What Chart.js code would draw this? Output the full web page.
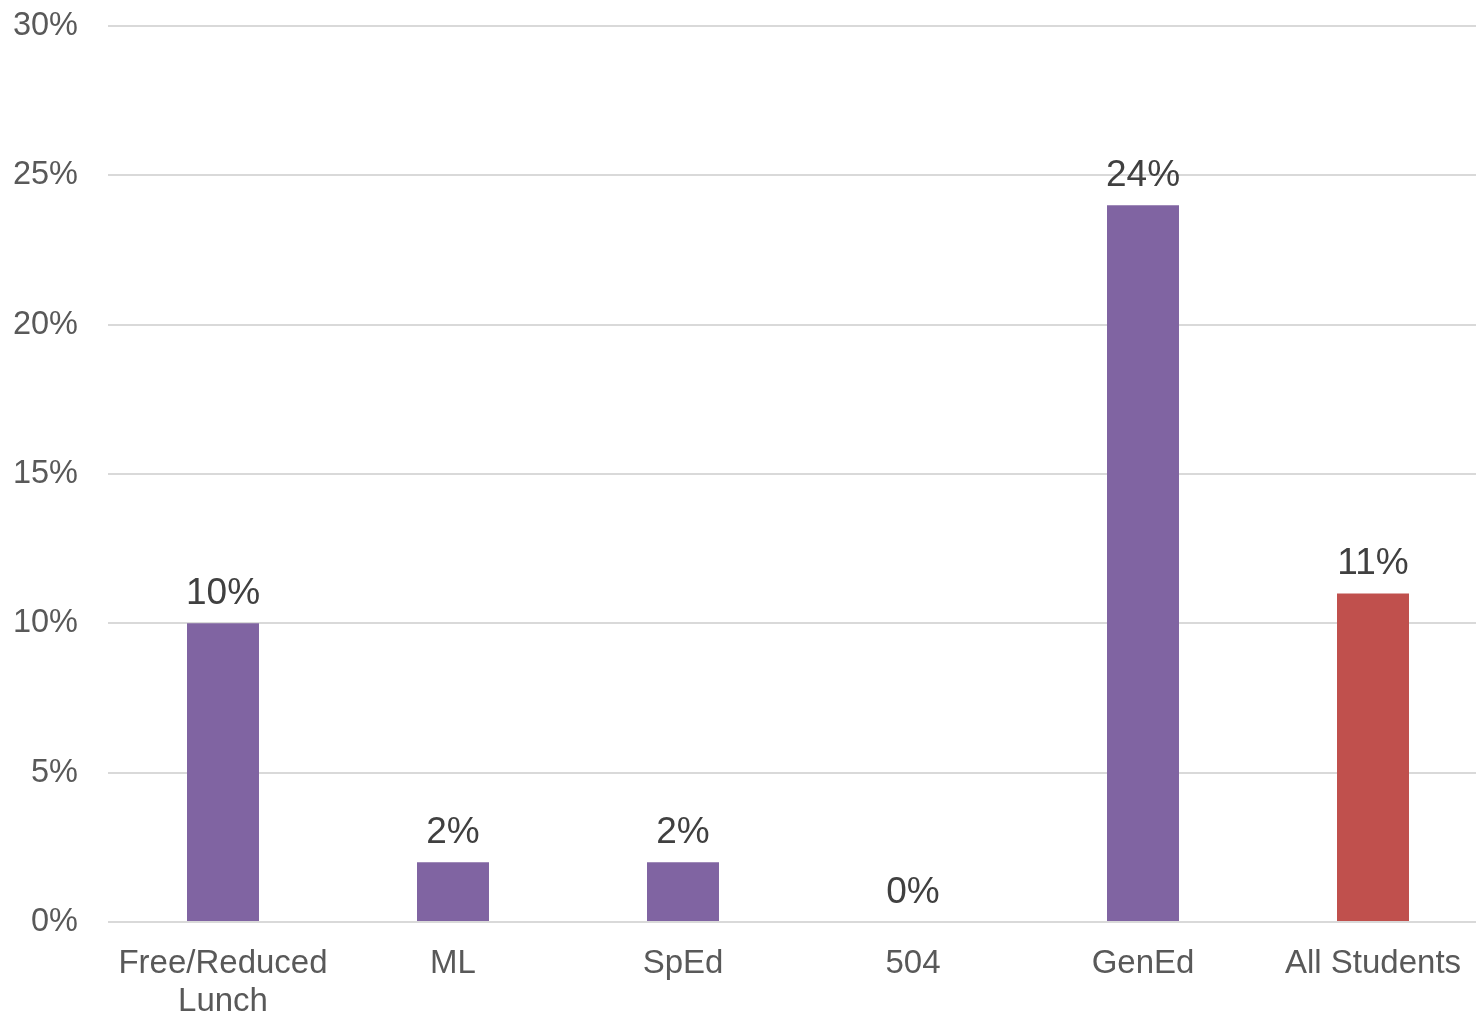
<!DOCTYPE html>
<html>
<head>
<meta charset="utf-8">
<script src="https://cdn.jsdelivr.net/npm/chart.js@4/dist/chart.umd.min.js"></script>
<style>
html,body{margin:0;padding:0;background:#fff;overflow:hidden;}
#wrap{position:relative;width:1488px;height:1015px;}
</style>
</head>
<body>
<div id="wrap"><canvas id="c" width="1488" height="1015"></canvas></div>
<script>
const categories = [['Free/Reduced','Lunch'], 'ML', 'SpEd', '504', 'GenEd', 'All Students'];
const values = [10, 2, 2, 0, 24, 11];
const barColors = ['#8064A2', '#8064A2', '#8064A2', '#8064A2', '#8064A2', '#C0504D'];
const yTicks = [0, 5, 10, 15, 20, 25, 30];

const valueLabels = {
  id: 'valueLabels',
  afterDatasetsDraw(chart) {
    const ctx = chart.ctx;
    const meta = chart.getDatasetMeta(0);
    ctx.save();
    ctx.font = '37px "Liberation Sans", Arial, sans-serif';
    ctx.fillStyle = '#404040';
    ctx.textAlign = 'center';
    ctx.textBaseline = 'alphabetic';
    meta.data.forEach((bar, i) => {
      ctx.fillText(values[i] + '%', bar.x, bar.y - 19);
    });
    ctx.restore();
  }
};

new Chart(document.getElementById('c'), {
  type: 'bar',
  data: {
    labels: categories,
    datasets: [{
      data: values,
      backgroundColor: barColors,
      borderWidth: 0,
      barPercentage: 0.626,
      categoryPercentage: 0.5
    }]
  },
  options: {
    responsive: false,
    animation: false,
    layout: { padding: { top: 26, right: 0, left: 0, bottom: 0 } },
    plugins: { legend: { display: false }, tooltip: { enabled: false } },
    scales: {
      x: {
        grid: { display: false, drawTicks: false },
        border: { display: false },
        ticks: {
          color: '#595959',
          font: { family: '"Liberation Sans", Arial, sans-serif', size: 33, lineHeight: 1.15 },
          padding: 23,
          maxRotation: 0,
          autoSkip: false
        },
        afterFit(scale) { scale.height = 93; scale.paddingLeft = 0; scale.paddingRight = 0; }
      },
      y: {
        min: 0,
        max: 30,
        afterBuildTicks(scale) { scale.ticks = yTicks.map(v => ({ value: v })); },
        grid: { color: '#D9D9D9', lineWidth: 2, drawTicks: false },
        border: { display: false },
        ticks: {
          color: '#595959',
          font: { family: '"Liberation Sans", Arial, sans-serif', size: 32.5 },
          padding: 30,
          callback: v => v + '%'
        },
        afterFit(scale) { scale.width = 108; scale.paddingTop = 0; scale.paddingBottom = 0; }
      }
    }
  },
  plugins: [valueLabels]
});
</script>
</body>
</html>
